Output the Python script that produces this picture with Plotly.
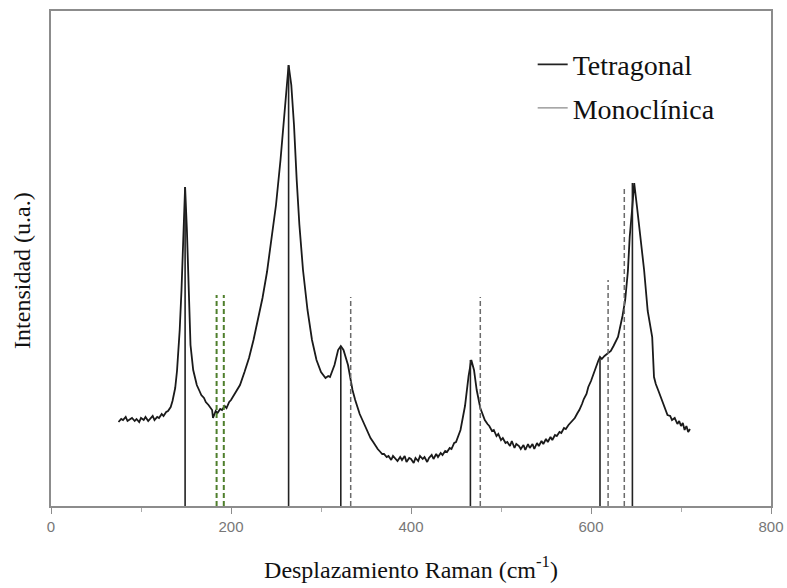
import plotly.graph_objects as go

# Raman spectrum, x in cm-1, intensity in arbitrary units
raman_shift = [75, 78, 80, 83, 85, 88, 90, 93, 95, 98, 100, 103, 105, 108, 110, 113, 115, 118, 120,
               123, 125, 128, 130, 133, 135, 138, 140, 143, 145, 147, 149,
               151, 153, 155, 158, 162, 165, 167, 170, 172, 175, 177, 179, 180, 183, 185, 188, 190,
               193, 195, 198, 200, 205, 210, 215, 220,
               225, 230, 235, 240, 245, 250, 255, 258, 261, 264, 267, 270, 273, 276, 280, 285, 290,
               295, 300, 303, 305, 308, 310, 315, 319, 322, 325, 330, 335, 338, 340, 343, 345, 348,
               350, 353, 355, 358, 360, 363, 365, 368, 370,
               373, 375, 378, 380, 383, 385, 388, 390, 393, 395, 398, 400, 403, 405, 408, 410, 413,
               415, 418, 420, 423, 425, 428, 430, 433, 435, 438, 440, 443, 445, 448, 450, 455,
               460, 464, 467, 470, 473, 477, 480, 482, 485, 487, 490, 492, 495, 497, 500, 502, 505,
               507, 510, 512, 515, 517, 520, 522, 525, 527, 530, 532,
               535, 537, 540, 542, 545, 547, 550, 552, 555, 557, 560, 562, 565, 567, 570, 572, 575,
               577, 580, 582, 585, 587, 590, 592, 595, 597, 600, 603, 606, 608, 610, 612, 615, 618,
               622, 625, 630, 635, 638, 641, 643, 646, 648, 651, 655, 659, 663, 668, 670, 672, 675,
               677, 679, 681, 683, 685, 688, 690, 693, 696, 698, 700, 702, 704, 706, 708, 710]
intensity = [84, 87, 86, 89, 85, 87, 88, 85, 87, 84, 88, 86, 89, 85, 87, 90, 86, 89, 88,
             92, 90, 94, 95, 99, 105, 118, 135, 176, 216, 276, 319,
             276, 206, 161, 136, 121, 115, 111, 108, 104, 101, 98, 96, 88, 95, 93, 97, 96,
             100, 98, 104, 106, 113, 121, 134, 148,
             166, 188, 208, 234, 266, 301, 346, 376, 411, 441, 421, 381, 326, 281, 236, 196, 166,
             146, 134, 131, 128, 130, 129, 141, 156, 160, 156, 141, 116, 106, 100, 92, 88, 82,
             77, 72, 68, 64, 61, 57, 55, 52, 52,
             49, 50, 46, 50, 47, 45, 49, 46, 50, 44, 48, 47, 43, 48, 45, 50, 47,
             49, 44, 48, 51, 47, 52, 49, 53, 51, 55, 54, 58, 57, 63, 64, 76,
             100, 130, 146, 136, 116, 98, 90, 86, 82, 80, 75, 76, 70, 72, 66, 68, 63,
             64, 60, 65, 58, 62, 60, 57, 61, 56, 62, 58,
             62, 57, 63, 60, 65, 62, 67, 64, 69, 66, 71, 70, 74, 73, 78, 77, 81,
             83, 86, 88, 93, 96, 102, 107, 112, 119, 125, 133, 140, 145, 149, 147, 150, 152, 155,
             160, 169, 190, 206, 235, 269, 300, 323, 300, 270, 236, 195, 169, 129, 122, 115, 110,
             104, 100, 96, 91, 90, 86, 88, 82, 85, 80, 83, 76, 80, 74, 77, 72]

# Reference line positions and heights
tetragonal_pos = [149, 264, 322, 466, 610, 646]
tetragonal_height = [319, 441, 159, 146, 149, 323]
mono_green_pos = [184, 192]
mono_green_height = [211, 211]
mono_pos = [333, 477, 619, 637]
mono_height = [209, 209, 226, 319]

x_ticks = [0, 200, 400, 600, 800]


def sticks(pos, h):
    xs, ys = [], []
    for p, v in zip(pos, h):
        xs += [p, p, None]
        ys += [0, v, None]
    return xs, ys


fig = go.Figure()

fig.add_trace(go.Scatter(x=raman_shift, y=intensity, mode="lines",
                         line=dict(color="#1a1a1a", width=1.8), showlegend=False))

tx, ty = sticks(tetragonal_pos, tetragonal_height)
fig.add_trace(go.Scatter(x=tx, y=ty, mode="lines", name="Tetragonal",
                         line=dict(color="#222222", width=1.6), legendgroup="t"))

gx, gy = sticks(mono_green_pos, mono_green_height)
fig.add_trace(go.Scatter(x=gx, y=gy, mode="lines", showlegend=False,
                         line=dict(color="#4f7f2c", width=2, dash="5px,3px")))

mx, my = sticks(mono_pos, mono_height)
fig.add_trace(go.Scatter(x=mx, y=my, mode="lines", showlegend=False, legendgroup="m",
                         line=dict(color="#6a6a6a", width=1.5, dash="5px,3px")))
# legend entry for the monoclinic lines
fig.add_trace(go.Scatter(x=[None], y=[None], mode="lines", name="Monoclínica", legendgroup="m",
                         line=dict(color="#8a8a8a", width=1.2)))

fig.update_layout(
    width=787, height=588,
    margin=dict(l=51, r=16, t=11, b=82, autoexpand=False),
    plot_bgcolor="white", paper_bgcolor="white",
    font=dict(family="Liberation Serif", color="#111"),
    legend=dict(x=0.669, y=0.942, xanchor="left", yanchor="top",
                font=dict(size=28, family="Liberation Serif", color="#111"),
                bgcolor="rgba(0,0,0,0)", traceorder="grouped", tracegroupgap=4,
                itemwidth=30),
    xaxis=dict(range=[0, 800], tickvals=x_ticks, ticktext=[str(v) for v in x_ticks],
               automargin=False,
               showgrid=False, zeroline=False, showline=True, linecolor="#8c8c8c",
               linewidth=1.5, mirror=True, ticks="outside", ticklen=6, tickcolor="#8c8c8c",
               tickfont=dict(family="Liberation Sans", size=15, color="#777"),
               minor=dict(ticks="outside", ticklen=4, dtick=100, tickcolor="#aaa"),
               title=dict(text="Desplazamiento Raman (cm<sup>-1</sup>)",
                          font=dict(size=24, family="Liberation Serif", color="#111"),
                          standoff=27)),
    yaxis=dict(range=[0, 495], showticklabels=False, ticks="", showgrid=False,
               automargin=False,
               zeroline=False, showline=True, linecolor="#8c8c8c", linewidth=1.5, mirror=True),
    annotations=[dict(text="Intensidad (u.a.)", textangle=-90, xref="paper", yref="paper",
                      x=0, y=0.475, xanchor="center", yanchor="middle", xshift=-29,
                      showarrow=False,
                      font=dict(size=24, family="Liberation Serif", color="#111"))],
)

fig.write_html("out.html")
